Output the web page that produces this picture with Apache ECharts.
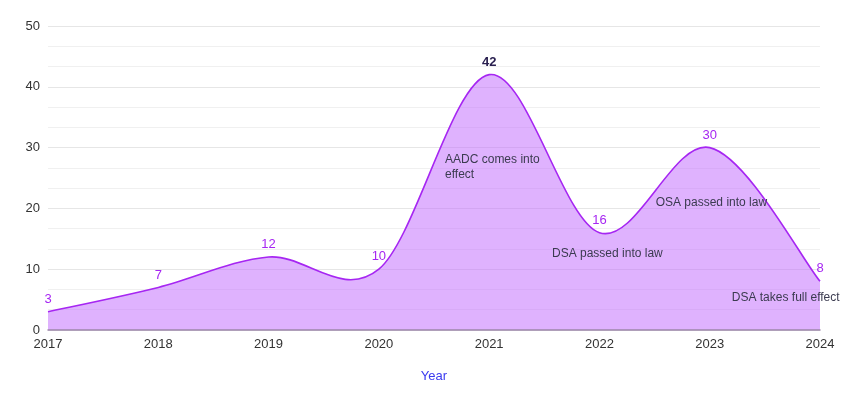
<!DOCTYPE html>
<html lang="en">
<head>
    <meta charset="UTF-8">
    <title>Timeline chart</title>
    <script src="https://cdn.jsdelivr.net/npm/echarts@6.0.0/dist/echarts.min.js"></script>
    <style>
        html, body { margin: 0; padding: 0; background: #fff; }
        #chart { width: 858px; height: 404px; }
    </style>
</head>
<body>
    <div id="chart"></div>
    <script>
        // data
        const years = [2017, 2018, 2019, 2020, 2021, 2022, 2023, 2024];
        const counts = [3, 7, 12, 10, 42, 16, 30, 8];
        const yTicks = [0, 10, 20, 30, 40, 50];
        // annotation texts and where they sit (year, value)
        const noteTexts = ['AADC comes into\neffect', 'DSA passed into law', 'OSA passed into law', 'DSA takes full effect'];
        const noteYears = [2020.6, 2021.57, 2022.51, 2023.2];
        const noteValues = [26.8, 12.5, 20.9, 5.3];

        const chart = echarts.init(document.getElementById('chart'));
        const purple = '#a626f2';

        // spline through the data points (same kind of smoothing as the original office chart)
        function renderCurve(params, api) {
            const pts = years.map((y, i) => api.coord([y, counts[i]]));
            const base = api.coord([years[0], 0])[1];
            const n = pts.length;
            let d = 'M' + pts[0][0] + ' ' + pts[0][1];
            for (let i = 0; i < n - 1; i++) {
                const p0 = pts[Math.max(i - 1, 0)];
                const p1 = pts[i];
                const p2 = pts[i + 1];
                const p3 = pts[Math.min(i + 2, n - 1)];
                const c1x = p1[0] + (p2[0] - p0[0]) / 6;
                const c1y = p1[1] + (p2[1] - p0[1]) / 6;
                const c2x = p2[0] - (p3[0] - p1[0]) / 6;
                const c2y = p2[1] - (p3[1] - p1[1]) / 6;
                d += ' C' + c1x + ' ' + c1y + ' ' + c2x + ' ' + c2y + ' ' + p2[0] + ' ' + p2[1];
            }
            const area = d + ' L' + pts[n - 1][0] + ' ' + base + ' L' + pts[0][0] + ' ' + base + ' Z';
            return {
                type: 'group',
                children: [
                    { type: 'path', shape: { pathData: area }, style: { fill: 'rgba(191,101,253,0.5)', stroke: null } },
                    { type: 'path', shape: { pathData: d }, style: { fill: null, stroke: purple, lineWidth: 1.6 } }
                ]
            };
        }

        const option = {
            animation: false,
            grid: { left: 48, right: 38, top: 26, bottom: 74 },
            xAxis: {
                type: 'value',
                min: years[0],
                max: years[years.length - 1],
                interval: 1,
                name: 'Year',
                nameLocation: 'middle',
                nameGap: 40,
                nameTextStyle: { color: '#3b3bf0', fontSize: 13, fontFamily: 'Liberation Sans' },
                axisLine: { show: true, lineStyle: { color: '#9d88ab', width: 1.5 } },
                axisTick: { show: false },
                splitLine: { show: false },
                axisLabel: {
                    color: '#333', fontSize: 13, fontFamily: 'Liberation Sans', margin: 8,
                    formatter: v => String(v)
                },
                z: 5
            },
            yAxis: {
                type: 'value',
                min: yTicks[0],
                max: yTicks[yTicks.length - 1],
                interval: 10,
                axisLine: { show: false },
                axisTick: { show: false },
                axisLabel: { color: '#333', fontSize: 13, fontFamily: 'Liberation Sans', margin: 8 },
                splitLine: { lineStyle: { color: '#e6e6e6', width: 1.2 } },
                minorTick: { show: false, splitNumber: 3 },
                minorSplitLine: { show: true, lineStyle: { color: '#f0f0f0', width: 1 } }
            },
            series: [{
                type: 'custom',
                renderItem: renderCurve,
                data: [[years[0], counts[0]]],
                silent: true,
                clip: false,
                z: 1
            }, {
                type: 'line',
                symbol: 'circle',
                symbolSize: 0,
                data: years.map((y, i) => ({
                    value: [y, counts[i]],
                    label: counts[i] === 42 ? { color: '#2a2050', fontWeight: 'bold' } : undefined
                })),
                lineStyle: { opacity: 0 },
                label: {
                    show: true,
                    position: 'top',
                    distance: 6,
                    color: purple,
                    fontSize: 13,
                    fontFamily: 'Liberation Sans',
                    formatter: p => p.value[1]
                },
                markPoint: {
                    symbol: 'circle',
                    symbolSize: 0,
                    silent: true,
                    label: {
                        show: true,
                        position: 'right',
                        distance: 0,
                        color: '#3b3b50',
                        fontSize: 12,
                        lineHeight: 15,
                        fontFamily: 'Liberation Sans',
                        formatter: p => p.name
                    },
                    data: noteTexts.map((t, i) => ({
                        name: t,
                        coord: [noteYears[i], noteValues[i]]
                    }))
                },
                z: 3
            }]
        };

        chart.setOption(option);
    </script>
</body>
</html>
